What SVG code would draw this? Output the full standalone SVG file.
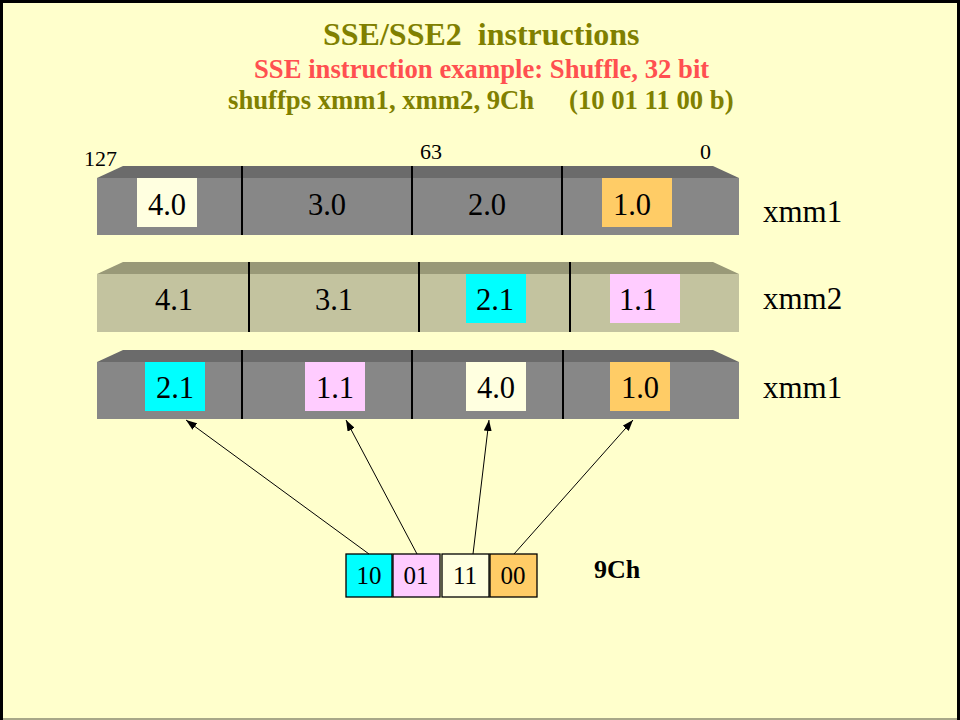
<svg xmlns="http://www.w3.org/2000/svg" width="960" height="720" viewBox="0 0 960 720">
  <style>
    text { font-family: "Liberation Serif", "Times New Roman", serif; }
    .title { font-size: 32px; font-weight: bold; fill: #808000; white-space: pre; }
    .sub { font-size: 26.7px; font-weight: bold; fill: #ff5050; }
    .cmd { font-size: 26.7px; font-weight: bold; fill: #808000; }
    .bit { font-size: 22px; fill: #000; }
    .val { font-size: 30.5px; fill: #000; text-anchor: middle; }
    .reg { font-size: 31px; fill: #000; }
    .code { font-size: 25px; fill: #000; text-anchor: middle; }
    .hex { font-size: 26px; font-weight: bold; fill: #000; }
    .front-a { fill: #878787; }
    .top-a { fill: #6b6b6b; }
    .front-b { fill: #c3c39f; }
    .top-b { fill: #999978; }
    .div { stroke: #000; stroke-width: 2; }
    .cyan { fill: #00ffff; }
    .pink { fill: #ffccff; }
    .pale { fill: #ffffe0; }
    .orange { fill: #ffcc66; }
    .cell { stroke: #000; stroke-width: 1.3; }
    .conn { stroke: #000; stroke-width: 1; fill: none; marker-end: url(#head); }
  </style>
  <defs>
    <marker id="head" markerUnits="userSpaceOnUse" markerWidth="11" markerHeight="8" refX="11" refY="4" orient="auto">
      <path d="M0,0 L11,4 L0,8 z" fill="#000"/>
    </marker>
  </defs>

  <!-- slide background and frame -->
  <rect x="0" y="0" width="960" height="720" fill="#ffffcc"/>
  <path d="M1.5,720 V1.5 H958.5 V720" fill="none" stroke="#000" stroke-width="3"/>
  <line x1="3" y1="719" x2="957" y2="719" stroke="#a8a888" stroke-width="2"/>

  <!-- headings -->
  <g id="headings">
    <text class="title" x="323" y="45" xml:space="preserve">SSE/SSE2  instructions</text>
    <text class="sub" x="254" y="78">SSE instruction example: Shuffle, 32 bit</text>
    <text class="cmd" y="109"><tspan x="228">shuffps xmm1, xmm2, 9Ch</tspan><tspan x="569">(10 01 11 00 b)</tspan></text>
  </g>

  <!-- bit positions -->
  <g id="bit-positions">
    <text class="bit" x="84" y="166">127</text>
    <text class="bit" x="420" y="159">63</text>
    <text class="bit" x="700" y="159">0</text>
  </g>

  <!-- source/destination register xmm1 -->
  <g id="xmm1-src">
    <polygon class="top-a" points="97,178 123,166 713,166 739,178"/>
    <rect class="front-a" x="97" y="178" width="642" height="57"/>
    <rect class="pale" x="137" y="178" width="60" height="49"/>
    <rect class="orange" x="602" y="178" width="70" height="49"/>
    <line class="div" x1="242" y1="166" x2="242" y2="235"/>
    <line class="div" x1="412" y1="166" x2="412" y2="235"/>
    <line class="div" x1="562" y1="166" x2="562" y2="235"/>
    <text class="val" x="167" y="215">4.0</text>
    <text class="val" x="327" y="215">3.0</text>
    <text class="val" x="487" y="215">2.0</text>
    <text class="val" x="632" y="215">1.0</text>
    <text class="reg" x="763" y="222">xmm1</text>
  </g>

  <!-- second operand xmm2 -->
  <g id="xmm2">
    <polygon class="top-b" points="97,274 123,262 713,262 739,274"/>
    <rect class="front-b" x="97" y="274" width="642" height="58"/>
    <rect class="cyan" x="466" y="274" width="60" height="49"/>
    <rect class="pink" x="610" y="274" width="70" height="49"/>
    <line class="div" x1="249" y1="262" x2="249" y2="332"/>
    <line class="div" x1="419" y1="262" x2="419" y2="332"/>
    <line class="div" x1="570" y1="262" x2="570" y2="332"/>
    <text class="val" x="174" y="310">4.1</text>
    <text class="val" x="334" y="310">3.1</text>
    <text class="val" x="495" y="310">2.1</text>
    <text class="val" x="638" y="310">1.1</text>
    <text class="reg" x="763" y="309">xmm2</text>
  </g>

  <!-- result register xmm1 -->
  <g id="xmm1-dst">
    <polygon class="top-a" points="97,362 123,350 713,350 739,362"/>
    <rect class="front-a" x="97" y="362" width="642" height="57"/>
    <rect class="cyan" x="145" y="362" width="60" height="49"/>
    <rect class="pink" x="305" y="362" width="60" height="49"/>
    <rect class="pale" x="466" y="362" width="60" height="49"/>
    <rect class="orange" x="610" y="362" width="60" height="49"/>
    <line class="div" x1="242" y1="350" x2="242" y2="419"/>
    <line class="div" x1="412" y1="350" x2="412" y2="419"/>
    <line class="div" x1="563" y1="350" x2="563" y2="419"/>
    <text class="val" x="175" y="398">2.1</text>
    <text class="val" x="335" y="398">1.1</text>
    <text class="val" x="496" y="398">4.0</text>
    <text class="val" x="640" y="398">1.0</text>
    <text class="reg" x="763" y="398">xmm1</text>
  </g>

  <!-- immediate byte 9Ch split into 2-bit selectors -->
  <g id="imm8">
    <rect class="cell cyan" x="346" y="554" width="46" height="43"/>
    <rect class="cell pink" x="393" y="554" width="47" height="43"/>
    <rect class="cell pale" x="442" y="554" width="47" height="43"/>
    <rect class="cell orange" x="490" y="554" width="47" height="43"/>
    <text class="code" x="369" y="584">10</text>
    <text class="code" x="416" y="584">01</text>
    <text class="code" x="465" y="584">11</text>
    <text class="code" x="513" y="584">00</text>
    <text class="hex" x="594" y="578">9Ch</text>
  </g>

  <!-- selector arrows -->
  <g id="connectors">
    <line class="conn" x1="369" y1="554" x2="186" y2="420"/>
    <line class="conn" x1="417" y1="554" x2="346" y2="420"/>
    <line class="conn" x1="473" y1="554" x2="489" y2="420"/>
    <line class="conn" x1="514" y1="554" x2="633" y2="420"/>
  </g>
</svg>
